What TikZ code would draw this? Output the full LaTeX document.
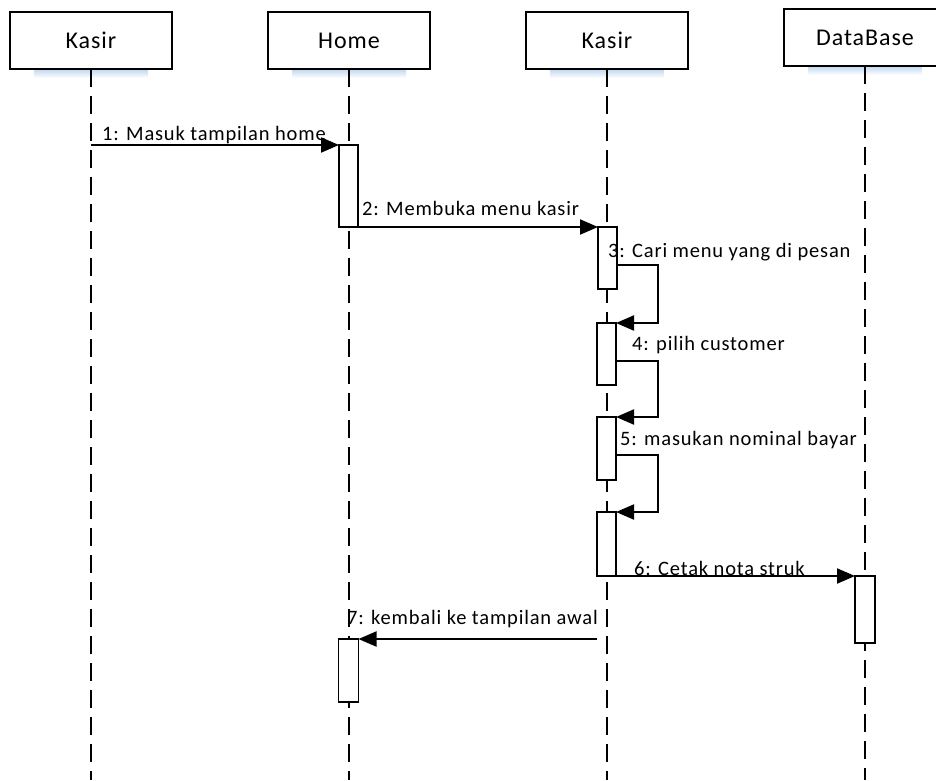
\documentclass[tikz,border=0pt]{standalone}
\usepackage{fontspec}
\setmainfont{Carlito}[LetterSpace=4]
\usetikzlibrary{arrows.meta,backgrounds}
\definecolor{shad}{RGB}{190,214,240}
\begin{document}
\begin{tikzpicture}[x=1pt,y=-1pt,
  participant/.style={draw, line width=1.6pt, fill=white, minimum width=162pt, minimum height=57pt, inner sep=0pt, outer sep=0pt, font=\fontsize{24}{28}\selectfont},
  act/.style={draw, line width=1.6pt, fill=white, minimum width=19pt, inner sep=0pt, outer sep=0pt},
  lifeline/.style={line width=2pt, dash pattern=on 18pt off 9pt},
  msg/.style={line width=2pt, -{Triangle[length=18pt,width=15pt]}},
  lbl/.style={anchor=west, inner sep=0pt, font=\fontsize{20.5}{24}\selectfont},
  shadowbar/.style={top color=shad, bottom color=white}]
\useasboundingbox (0,0) rectangle (936,780);

% participants
\node[participant] (p1) at (91,40.5) {Kasir};
\node[participant] (p2) at (349,40.5) {Home};
\node[participant] (p3) at (607,40.5) {Kasir};
\node[participant] (p4) at (865,37.5) {DataBase};

\begin{scope}[on background layer]
  \foreach \p in {p1,p2,p3,p4}{
    \shade[shadowbar] ([xshift=24pt]\p.south west) rectangle ([xshift=-24pt,yshift=-9pt]\p.south east);
  }
\end{scope}

% lifeline ends
\coordinate (e1) at (91,780);
\coordinate (e2) at (349,780);
\coordinate (e3) at (607,780);
\coordinate (e4) at (865,780);
\draw[lifeline] (p1.south) -- (e1);
\draw[lifeline] (p2.south) -- (e2);
\draw[lifeline] (p3.south) -- (e3);
\draw[lifeline] (p4.south) -- (e4);

% activations
\node[act, minimum height=82pt] (aH1) at (348.5,186) {};
\node[act, minimum height=62pt] (aK1) at (607.5,258) {};
\node[act, minimum height=62pt] (aK2) at (606.5,354) {};
\node[act, minimum height=63pt] (aK3) at (606.5,448.5) {};
\node[act, minimum height=64pt] (aK4) at (606.5,544) {};
\node[act, minimum height=67pt, minimum width=20pt] (aD) at (865,609.5) {};
\node[act, minimum height=63pt, minimum width=20pt] (aH2) at (348.5,670.5) {};

% messages
\draw[msg] (p1.south |- aH1.north west) -- (aH1.north west);
\draw[msg] (aH1.south east) -- (aK1.north west);
\draw[msg] (aK1.east |- 0,265) -- ++(41,0) |- (aK2.north east);
\draw[msg] (aK2.east |- 0,361) -- ++(41.5,0) |- (aK3.north east);
\draw[msg] (aK3.east |- 0,455) -- ++(41.5,0) |- (aK4.north east);
\draw[msg] (aK4.south west) -- (aD.north west);
\draw[msg] (aK4.west |- aH2.north) -- (aH2.north east);

% labels
\node[lbl] (l1) at (102,135) {1: Masuk tampilan home};
\node[lbl] (l2) at (362,208) {2: Membuka menu kasir};
\node[lbl] (l3) at (608,252) {3: Cari menu yang di pesan};
\node[lbl] (l4) at (632,345) {4: pilih customer};
\node[lbl] (l5) at (620,440) {5: masukan nominal bayar};
\node[lbl] (l6) at (634,568) {6: Cetak nota struk};
\node[lbl] (l7) at (347,619) {7: kembali ke tampilan awal};
\end{tikzpicture}
\end{document}
